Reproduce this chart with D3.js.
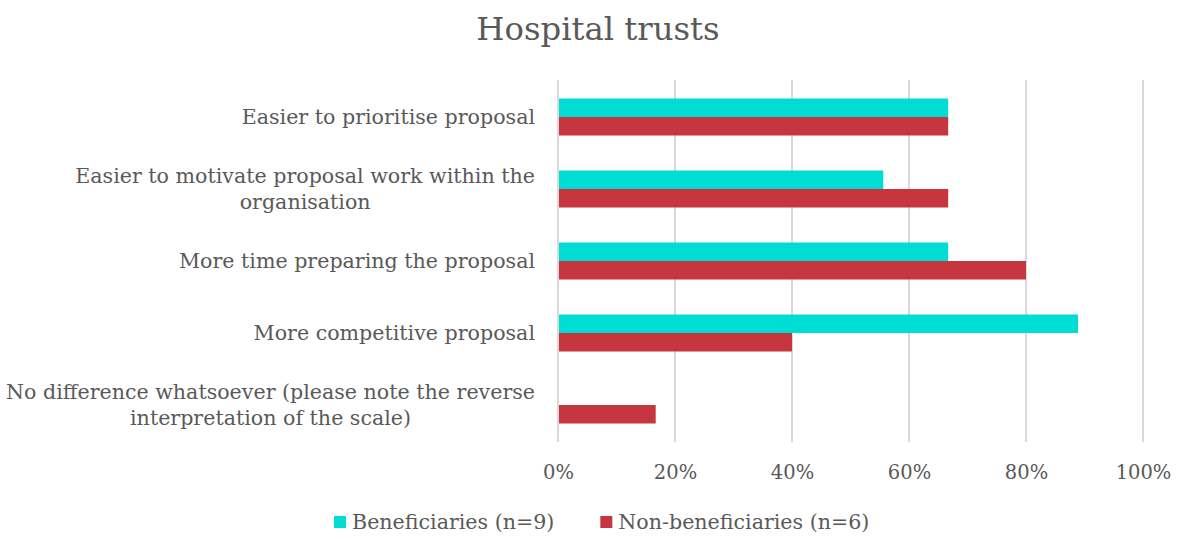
<!DOCTYPE html>
<html>
<head>
<meta charset="utf-8">
<script src="https://cdn.jsdelivr.net/npm/d3@7"></script>
<style>
  body { margin: 0; background: #fff; }
  text { font-family: 'DejaVu Serif', serif; fill: #595959; }
</style>
</head>
<body>
<div id="chart"></div>
<script>
// Data
const categories = [
  "Easier to prioritise proposal",
  "Easier to motivate proposal work within the\norganisation",
  "More time preparing the proposal",
  "More competitive proposal",
  "No difference whatsoever (please note the reverse\ninterpretation of the scale)"
];
const seriesNames = ["Beneficiaries (n=9)", "Non-beneficiaries (n=6)"];
const beneficiaries = [0.667, 0.556, 0.667, 0.889, 0];
const nonBeneficiaries = [0.667, 0.667, 0.80, 0.40, 0.167];
const xTicks = [0, 0.2, 0.4, 0.6, 0.8, 1.0];
const colors = ["#00DDD5", "#C7363F"];

const W = 1181, H = 539;
const margin = { top: 81, right: 38, bottom: 98, left: 558 };
const width = W - margin.left - margin.right;
const height = H - margin.top - margin.bottom;
const labelSize = "20.6px";

const svg = d3.select("#chart").append("svg")
  .attr("width", W)
  .attr("height", H);

const g = svg.append("g")
  .attr("transform", `translate(${margin.left},${margin.top})`);

const x = d3.scaleLinear().domain([0, 1]).range([0, width]);
const y = d3.scaleBand().domain(d3.range(categories.length)).range([0, height])
  .paddingInner(0.486).paddingOuter(0.243);
const sub = d3.scaleBand().domain([0, 1]).range([0, y.bandwidth()]);

// gridlines
g.selectAll(".grid")
  .data(xTicks)
  .enter().append("line")
  .attr("x1", d => x(d)).attr("x2", d => x(d))
  .attr("y1", -1).attr("y2", height + 1)
  .attr("stroke", "#d9d9d9")
  .attr("stroke-width", 2);

// bars
const series = [beneficiaries, nonBeneficiaries];
series.forEach((vals, si) => {
  g.selectAll(".bar" + si)
    .data(vals)
    .enter().append("rect")
    .attr("x", x(0) + 1)
    .attr("y", (d, i) => y(i) + sub(si))
    .attr("width", d => Math.max(0, x(d) - x(0) - 1))
    .attr("height", sub.bandwidth())
    .attr("fill", colors[si]);
});

// x axis labels
const xAxis = g.append("g")
  .attr("transform", `translate(0,${height})`)
  .call(d3.axisBottom(x).tickValues(xTicks).tickFormat(d3.format(".0%")).tickSize(0).tickPadding(24));
xAxis.select(".domain").remove();
xAxis.selectAll("text")
  .style("font-family", "'DejaVu Serif', serif")
  .style("font-size", "19.5px")
  .attr("fill", "#595959");

// category labels (lines centred, block right-aligned to the axis)
categories.forEach((c, i) => {
  const lines = c.split("\n");
  const cy = y(i) + y.bandwidth() / 2;
  const t = g.append("text")
    .attr("text-anchor", "middle")
    .style("font-size", labelSize);
  const lh = 26;
  lines.forEach((ln, j) => {
    t.append("tspan")
      .attr("x", 0)
      .attr("y", cy + (j - (lines.length - 1) / 2) * lh + 7)
      .text(ln);
  });
  const bw = t.node().getBBox().width;
  t.selectAll("tspan").attr("x", -23 - bw / 2);
});

// title
svg.append("text")
  .attr("x", 598)
  .attr("y", 40)
  .attr("text-anchor", "middle")
  .style("font-size", "32.3px")
  .text("Hospital trusts");

// legend
const legend = svg.append("g").attr("transform", "translate(334,522)");
let lx = 0;
seriesNames.forEach((name, i) => {
  const item = legend.append("g").attr("transform", `translate(${lx},0)`);
  item.append("rect")
    .attr("x", 0).attr("y", -6)
    .attr("width", 12).attr("height", 12)
    .attr("fill", colors[i]);
  const t = item.append("text")
    .attr("x", 18).attr("y", 7)
    .style("font-size", labelSize)
    .text(name);
  lx += 18 + t.node().getComputedTextLength() + 46;
});
</script>
</body>
</html>
